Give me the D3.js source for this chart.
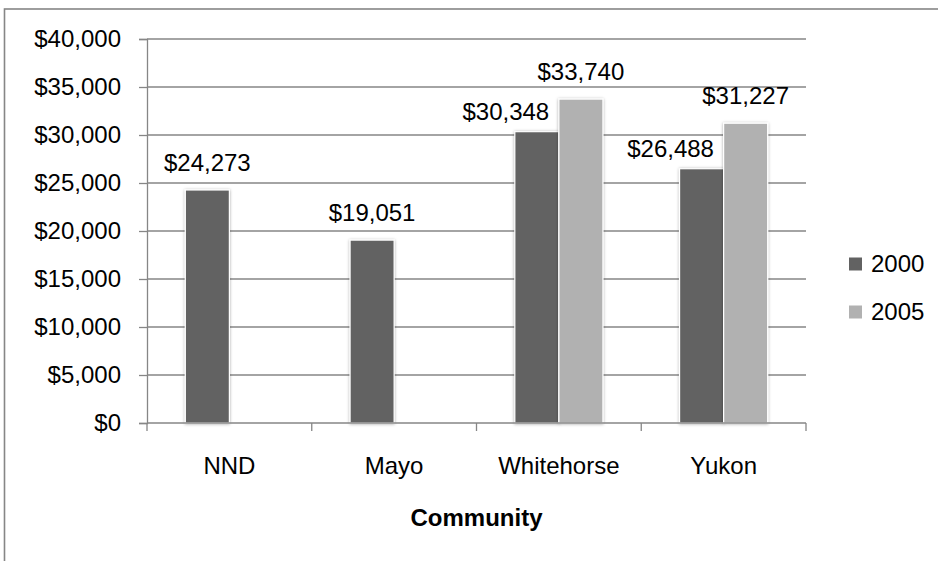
<!DOCTYPE html>
<html>
<head>
<meta charset="utf-8">
<script src="https://cdn.jsdelivr.net/npm/d3@7"></script>
<style>
  body { margin: 0; background: #fff; }
  text { font-family: "Liberation Sans", Arial, sans-serif; fill: #000; }
</style>
</head>
<body>
<div id="chart"></div>
<script>
var communities = ["NND", "Mayo", "Whitehorse", "Yukon"];
var years = ["2000", "2005"];
var income2000 = [24273, 19051, 30348, 26488];
var income2005 = [null, null, 33740, 31227];
var yTicks = [0, 5000, 10000, 15000, 20000, 25000, 30000, 35000, 40000];

var width = 938;
var height = 561;
var plot = {left: 147, right: 806, top: 39, bottom: 423};
var colors = {"2000": "#626262", "2005": "#b1b1b1"};
var gridColor = "#868686";
var fontSize = 24;
var fmt = d3.format("$,");

var rows = [];
communities.forEach(function(c, i) {
  rows.push({community: c, year: "2000", value: income2000[i]});
  rows.push({community: c, year: "2005", value: income2005[i]});
});

var svg = d3.select("#chart").append("svg")
  .attr("width", width)
  .attr("height", height);

var defs = svg.append("defs");
var f = defs.append("filter").attr("id", "glow")
  .attr("x", "-20%").attr("y", "-20%").attr("width", "140%").attr("height", "140%");
f.append("feDropShadow")
  .attr("dx", 0).attr("dy", 0.5)
  .attr("stdDeviation", 1.6)
  .attr("flood-color", "#000")
  .attr("flood-opacity", 0.35);

// outer chart border (cropped on right and bottom)
svg.append("rect")
  .attr("x", 4.5).attr("y", 9)
  .attr("width", 1200).attr("height", 1200)
  .attr("fill", "none")
  .attr("stroke", gridColor)
  .attr("stroke-width", 1.6);

var x0 = d3.scaleBand().domain(communities).range([plot.left, plot.right]);
var x1 = d3.scaleBand().domain(years).range([0, x0.bandwidth()]).paddingOuter(0.87);
var y = d3.scaleLinear().domain([0, 40000]).range([plot.bottom, plot.top]);

// gridlines + y axis
var yAxis = svg.append("g")
  .attr("transform", "translate(" + plot.left + ",0)")
  .call(d3.axisLeft(y).tickValues(yTicks).tickFormat(fmt)
    .tickSize(8).tickPadding(18));
yAxis.select(".domain").attr("stroke", gridColor).attr("stroke-width", 1.3);
yAxis.selectAll(".tick line").attr("stroke", gridColor).attr("stroke-width", 1.3);
yAxis.selectAll(".tick text").attr("font-size", fontSize)
  .attr("font-family", "Liberation Sans, Arial, sans-serif");

svg.append("g").selectAll("line")
  .data(yTicks.filter(function(t) { return t > 0; }))
  .join("line")
  .attr("x1", plot.left).attr("x2", plot.right)
  .attr("y1", function(d) { return y(d); })
  .attr("y2", function(d) { return y(d); })
  .attr("stroke", gridColor).attr("stroke-width", 1.3);

// bars
svg.append("g").selectAll("rect")
  .data(rows.filter(function(d) { return d.value != null; }))
  .join("rect")
  .attr("x", function(d) { return x0(d.community) + x1(d.year); })
  .attr("y", function(d) { return y(d.value); })
  .attr("width", x1.bandwidth())
  .attr("height", function(d) { return y(0) - y(d.value); })
  .attr("fill", function(d) { return colors[d.year]; })
  .attr("stroke", "#fff")
  .attr("stroke-width", 1.2)
  .attr("filter", "url(#glow)");

// x axis with ticks at category boundaries
var xEdges = communities.map(function(c) { return x0(c); }).concat([plot.right]);
svg.append("line")
  .attr("x1", plot.left).attr("x2", plot.right)
  .attr("y1", y(0)).attr("y2", y(0))
  .attr("stroke", gridColor).attr("stroke-width", 1.3);
svg.append("g").selectAll("line")
  .data(xEdges)
  .join("line")
  .attr("x1", function(d) { return d; }).attr("x2", function(d) { return d; })
  .attr("y1", y(0)).attr("y2", y(0) + 8)
  .attr("stroke", gridColor).attr("stroke-width", 1.3);

svg.append("g").selectAll("text")
  .data(communities)
  .join("text")
  .attr("x", function(d) { return x0(d) + x0.bandwidth() / 2; })
  .attr("y", 474)
  .attr("text-anchor", "middle")
  .attr("font-size", fontSize)
  .text(function(d) { return d; });

svg.append("text")
  .attr("x", (plot.left + plot.right) / 2)
  .attr("y", 526)
  .attr("text-anchor", "middle")
  .attr("font-size", fontSize)
  .attr("font-weight", "bold")
  .text("Community");

// data labels; the 2000 labels beside a 2005 bar sit up and to the left
svg.append("g").selectAll("text")
  .data(rows.filter(function(d) { return d.value != null; }))
  .join("text")
  .attr("x", function(d) {
    var cx = x0(d.community) + x1(d.year) + x1.bandwidth() / 2;
    var i = communities.indexOf(d.community);
    if (d.year === "2000" && income2005[i] != null) cx -= 31;
    return cx;
  })
  .attr("y", function(d) {
    var i = communities.indexOf(d.community);
    var off = (d.year === "2000" && income2005[i] != null) ? 12 : 19;
    return y(d.value) - off;
  })
  .attr("text-anchor", "middle")
  .attr("font-size", fontSize)
  .text(function(d) { return fmt(d.value); });

// legend
var legend = svg.append("g").selectAll("g")
  .data(years)
  .join("g")
  .attr("transform", function(d, i) { return "translate(849," + (264 + i * 48) + ")"; });
legend.append("rect")
  .attr("x", 0).attr("y", -6.5)
  .attr("width", 13).attr("height", 13)
  .attr("fill", function(d) { return colors[d]; });
legend.append("text")
  .attr("x", 22).attr("y", 0).attr("dy", "0.35em")
  .attr("font-size", fontSize)
  .text(function(d) { return d; });
</script>
</body>
</html>
